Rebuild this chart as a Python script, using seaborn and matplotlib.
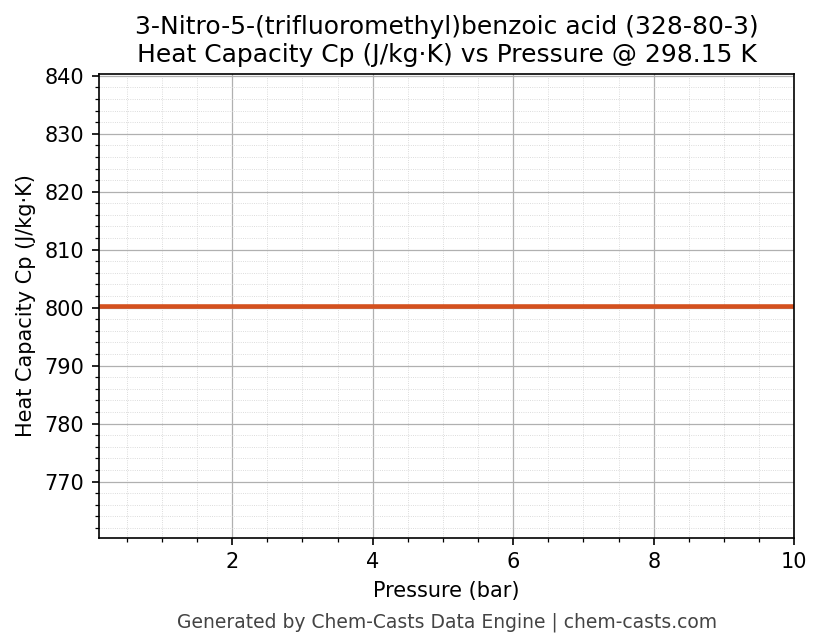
import numpy as np
import matplotlib.pyplot as plt
import seaborn as sns
from matplotlib.ticker import AutoMinorLocator

pressure = [0.1, 1, 2, 3, 4, 5, 6, 7, 8, 9, 10]
cp = [800.3] * len(pressure)

sns.set_style("ticks")
plt.rcParams['font.family'] = ['DejaVu Sans']
plt.rcParams.update({"text.color": "black", "axes.labelcolor": "black",
                     "xtick.color": "black", "ytick.color": "black"})

fig, ax = plt.subplots(figsize=(823 / 150, 644 / 150), dpi=150)
sns.lineplot(x=pressure, y=cp, ax=ax, color="#d4501e", linewidth=2.2)

ax.set_xlim(0.1, 10)
ax.set_ylim(cp[0] - 40, cp[0] + 40)
ax.xaxis.set_minor_locator(AutoMinorLocator())
ax.yaxis.set_minor_locator(AutoMinorLocator())
ax.grid(which="major", color="#b0b0b0", linewidth=0.6)
ax.grid(which="minor", color="#d0d0d0", linewidth=0.4, linestyle=":")
for s in ax.spines.values():
    s.set_visible(True)
    s.set_color("black")

ax.set_title("3-Nitro-5-(trifluoromethyl)benzoic acid (328-80-3)\n"
             "Heat Capacity Cp (J/kg·K) vs Pressure @ 298.15 K", fontsize=12,
             color="black")
ax.set_xlabel("Pressure (bar)")
ax.set_ylabel("Heat Capacity Cp (J/kg·K)")
fig.text(0.543, 0.025, "Generated by Chem-Casts Data Engine | chem-casts.com",
         ha="center", fontsize=9, color="#444444")

fig.subplots_adjust(left=0.12, right=0.965, top=0.885, bottom=0.165)
fig.savefig("out.png", dpi=150)
